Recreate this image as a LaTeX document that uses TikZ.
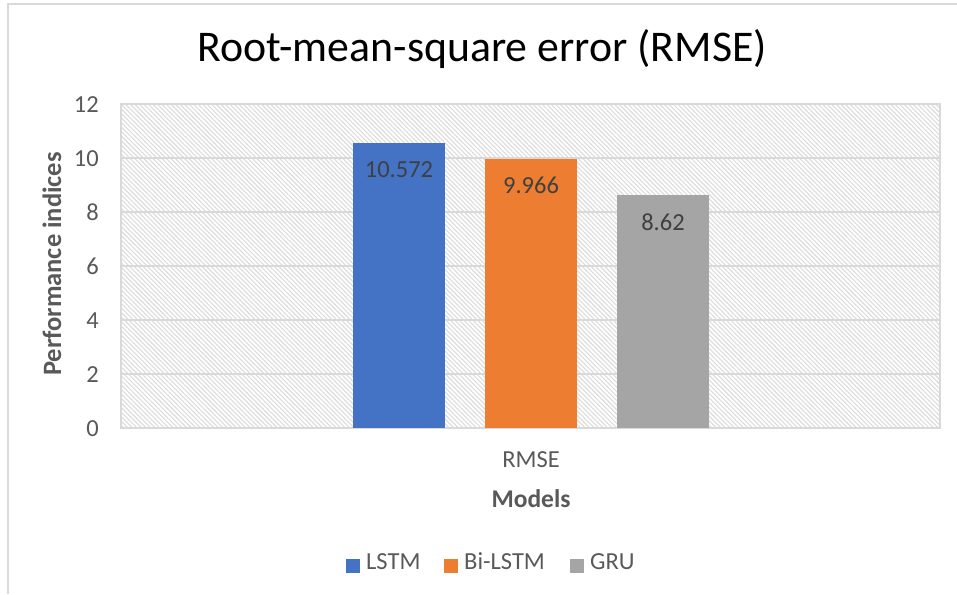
\documentclass[tikz,border=0pt]{standalone}
\usepackage{fontspec}
\setmainfont{Carlito}
\usetikzlibrary{patterns.meta}

\definecolor{lstmblue}{HTML}{4472C4}
\definecolor{bilstmorange}{HTML}{ED7D31}
\definecolor{grugray}{HTML}{A5A5A5}
\definecolor{axisgray}{HTML}{595959}
\definecolor{valgray}{HTML}{404040}
\definecolor{gridgray}{HTML}{D9D9D9}

\begin{document}
\begin{tikzpicture}[x=1pt,y=-1pt,
    ticklabel/.style={anchor=base east,inner sep=0pt,text=axisgray,font=\fontsize{24.5}{28}\selectfont},
    barlabel/.style={anchor=base,inner sep=0pt,text=valgray,font=\fontsize{24.5}{28}\selectfont},
    axistitle/.style={inner sep=0pt,text=axisgray,font=\fontsize{25.5}{28}\selectfont\bfseries},
    legendtext/.style={anchor=base west,inner sep=0pt,text=axisgray,font=\fontsize{24.5}{28}\selectfont}]
    \useasboundingbox (0,0) rectangle (957,594);

    % Frame of the chart
    \draw[gridgray,line width=2pt] (8.3,594) -- (8.3,3.7) -- (957,3.7);

    % Title
    \node[anchor=base,inner sep=0pt,font=\fontsize{43.8}{50}\selectfont] (title) at (482,62) {Root-mean-square error (RMSE)};

    % Plot area with hatching
    \fill[pattern={Lines[angle=-45,distance=3.2pt,line width=1.1pt]},pattern color=gray!28] (121,104) rectangle (940,428);
    \draw[gridgray,line width=1.5pt] (121,104) rectangle (940,428);

    % Grid lines and tick labels
    \foreach \v in {0,2,...,12} {
        \draw[gridgray,line width=1.5pt] (121,{428-27*\v}) -- (940,{428-27*\v});
        \node[ticklabel] (tick\v) at (99,{436.5-27*\v}) {\v};
    }

    % Bars with their values
    \foreach \name/\x/\val/\col in {lstm/353/10.572/lstmblue,bilstm/485/9.966/bilstmorange,gru/617/8.62/grugray} {
        \fill[\col] (\x,428) rectangle (\x+92,{428-27*\val});
        \node[barlabel] (\name) at (\x+46,{463-27*\val}) {\val};
    }

    % Axis titles
    \node[anchor=base,inner sep=0pt,text=axisgray,font=\fontsize{24.5}{28}\selectfont] (category) at (531,467) {RMSE};
    \node[axistitle,anchor=base] (xtitle) at (531,507) {Models};
    \node[axistitle,font=\fontsize{26.5}{30}\selectfont\bfseries,rotate=90] (ytitle) at (52,264) {Performance indices};

    % Legend
    \foreach \name/\sx/\tx/\col/\lab in {lstm/346/366/lstmblue/LSTM,bilstm/444/464/bilstmorange/Bi-LSTM,gru/570/590/grugray/GRU} {
        \fill[\col] (\sx,559) rectangle (\sx+14,573);
        \node[legendtext] (key\name) at (\tx,569) {\lab};
    }
\end{tikzpicture}
\end{document}
